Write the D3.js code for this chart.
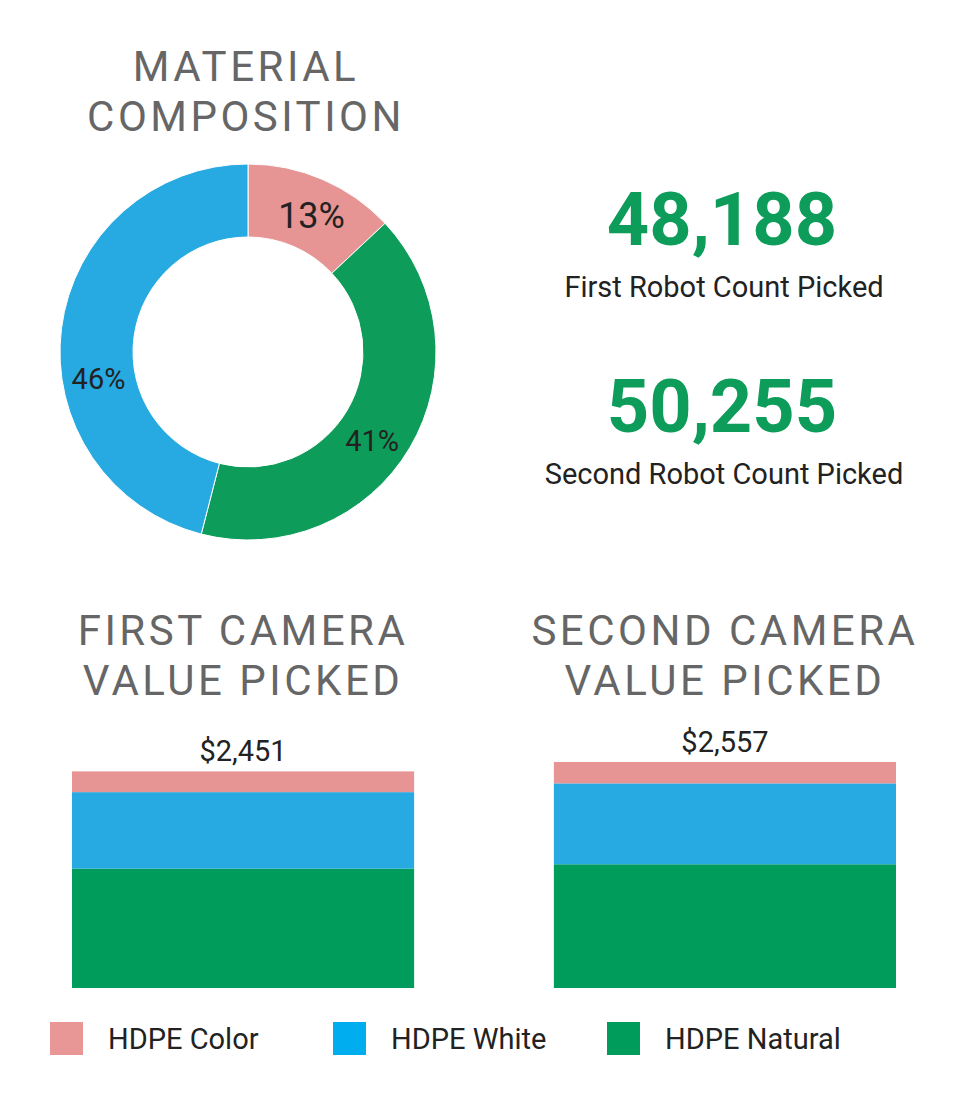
<!DOCTYPE html>
<html>
<head>
<meta charset="utf-8">
<script src="https://cdn.jsdelivr.net/npm/d3@7"></script>
<style>
  body { margin: 0; background: #fff; }
  svg { display: block; font-family: Roboto, "Noto Sans", sans-serif; }
</style>
</head>
<body>
<div id="chart"></div>
<script>
// material types (legend order)
const materials = ["HDPE Color", "HDPE White", "HDPE Natural"];

// donut: share of each material, in clockwise order from 12 o'clock
const donutOrder = ["HDPE Color", "HDPE Natural", "HDPE White"];
const donutShare = [13, 41, 46];

// robot counts
const robotLabels = ["First Robot Count Picked", "Second Robot Count Picked"];
const robotCounts = [48188, 50255];

// camera value picked ($), stacked bottom to top: Natural, White, Color
const cameras = ["FIRST CAMERA", "SECOND CAMERA"];
const valueNatural = [1350, 1400];
const valueWhite = [866, 915];
const valueColor = [235, 242];

const W = 964, H = 1106;
const color = d3.scaleOrdinal()
  .domain(materials)
  .range(["#e69494", "#27a9e1", "#0e9c5a"]);
const barColor = d3.scaleOrdinal()
  .domain(materials)
  .range(["#e69494", "#27aae1", "#009c5b"]);
const legendColor = d3.scaleOrdinal()
  .domain(materials)
  .range(["#e89696", "#00aeef", "#009c5b"]);

const svg = d3.select("#chart")
  .append("svg")
    .attr("width", W)
    .attr("height", H);

// ---- title helper
function title(lines, cx, y0) {
  const t = svg.append("text")
    .attr("text-anchor", "middle")
    .attr("fill", "#666")
    .style("font-size", "42px")
    .style("letter-spacing", "3.5px");
  lines.forEach((l, i) => {
    t.append("tspan").attr("x", cx).attr("y", y0 + i * 50).text(l);
  });
}

title(["MATERIAL", "COMPOSITION"], 246, 81);

// ---- donut
const cx = 248, cy = 352, rOut = 188, rIn = 115;
const pie = d3.pie().sort(null).value(d => d.v);
const arcs = pie(donutOrder.map((k, i) => ({k: k, v: donutShare[i]})));
const arc = d3.arc().innerRadius(rIn).outerRadius(rOut);

const g = svg.append("g").attr("transform", `translate(${cx},${cy})`);
g.selectAll("path")
  .data(arcs)
  .enter()
  .append("path")
    .attr("d", arc)
    .attr("fill", d => color(d.data.k))
    .attr("stroke", "#fff")
    .attr("stroke-width", 1);

// label position inside each slice (fraction of its sweep)
const labelFrac = {"HDPE Color": 0.53, "HDPE Natural": 0.53, "HDPE White": 0.4};
const labelSize = {"HDPE Color": 36, "HDPE Natural": 29, "HDPE White": 29};
const rMid = (rIn + rOut) / 2;
const labelAngle = d => d.startAngle + (d.endAngle - d.startAngle) * labelFrac[d.data.k];
g.selectAll("text.pct")
  .data(arcs)
  .enter()
  .append("text")
    .attr("class", "pct")
    .attr("text-anchor", "middle")
    .attr("dominant-baseline", "central")
    .attr("fill", "#222")
    .style("font-size", d => labelSize[d.data.k] + "px")
    .attr("x", d => rMid * Math.sin(labelAngle(d)))
    .attr("y", d => -rMid * Math.cos(labelAngle(d)) + 2)
    .text(d => d.data.v + "%");

// ---- robot counts
const fmt = d3.format(",");
robotCounts.forEach((c, i) => {
  const y = 245 + i * 187;
  svg.append("text")
    .attr("x", 722).attr("y", y)
    .attr("text-anchor", "middle")
    .attr("fill", "#0e9c5a")
    .style("font-size", "74px")
    .style("font-weight", "bold")
    .text(fmt(c));
  svg.append("text")
    .attr("x", 724).attr("y", y + 52)
    .attr("text-anchor", "middle")
    .attr("fill", "#222")
    .style("font-size", "29px")
    .text(robotLabels[i]);
});

// ---- stacked bars
const x = d3.scaleBand()
  .domain(cameras)
  .range([72, 896])
  .paddingInner(0.29)
  .paddingOuter(0);

const totals = cameras.map((c, i) => valueNatural[i] + valueWhite[i] + valueColor[i]);
const y = d3.scaleLinear()
  .domain([0, d3.max(totals)])
  .range([988, 762]);

cameras.forEach(c => title([c, "VALUE PICKED"], x(c) + x.bandwidth() / 2, 645));

const rows = cameras.map((c, i) => ({
  cam: c,
  "HDPE Natural": valueNatural[i],
  "HDPE White": valueWhite[i],
  "HDPE Color": valueColor[i]
}));
const stack = d3.stack().keys(["HDPE Natural", "HDPE White", "HDPE Color"]);

svg.append("g")
  .selectAll("g")
  .data(stack(rows))
  .enter()
  .append("g")
    .attr("fill", d => barColor(d.key))
  .selectAll("rect")
  .data(d => d)
  .enter()
  .append("rect")
    .attr("x", d => x(d.data.cam))
    .attr("y", d => y(d[1]))
    .attr("width", x.bandwidth())
    .attr("height", d => y(d[0]) - y(d[1]));

svg.selectAll("text.total")
  .data(cameras)
  .enter()
  .append("text")
    .attr("class", "total")
    .attr("x", c => x(c) + x.bandwidth() / 2)
    .attr("y", (c, i) => y(totals[i]) - 10)
    .attr("text-anchor", "middle")
    .attr("fill", "#222")
    .style("font-size", "29px")
    .text((c, i) => "$" + fmt(totals[i]));

// ---- legend
const legendX = [50, 333, 607];
const lg = svg.selectAll("g.leg")
  .data(materials)
  .enter()
  .append("g")
    .attr("class", "leg")
    .attr("transform", (d, i) => `translate(${legendX[i]},1022)`);
lg.append("rect")
  .attr("width", 33).attr("height", 33)
  .attr("fill", d => legendColor(d));
lg.append("text")
  .attr("x", 58).attr("y", 27)
  .attr("fill", "#222")
  .style("font-size", "29px")
  .text(d => d);
</script>
</body>
</html>
